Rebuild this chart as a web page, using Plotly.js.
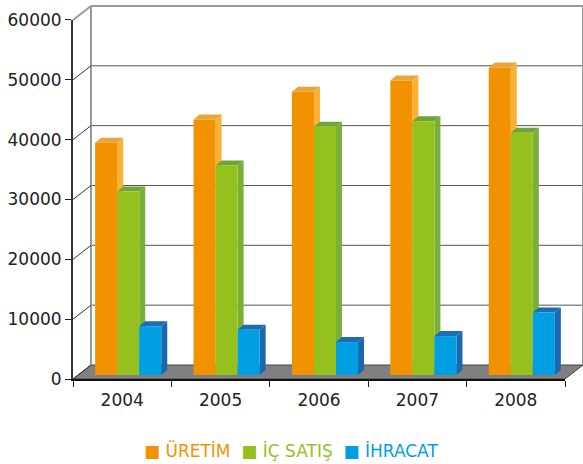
<!DOCTYPE html>
<html>
<head>
<meta charset="utf-8">
<script src="https://cdn.plot.ly/plotly-3.0.1.min.js"></script>
<style>html,body{margin:0;padding:0;background:#fff;}#chart{width:583px;height:464px;}</style>
</head>
<body>
<div id="chart"></div>
<script>
// ---- data ----
const years = ['2004', '2005', '2006', '2007', '2008'];
const uretim = [38800, 42700, 47350, 49200, 51400];
const icSatis = [30650, 35000, 41500, 42400, 40500];
const ihracat = [8150, 7550, 5500, 6500, 10450];
const seriesNames = ['ÜRETİM', 'İÇ SATIŞ', 'İHRACAT'];
const yTickValues = [0, 10000, 20000, 30000, 40000, 50000, 60000];

// ---- styles ----
const frontColors = ['#F39200', '#95C11F', '#009FE3'];
const topColors = ['#E9A53A', '#6FA535', '#1C6DB4'];
const sideColors = ['#FBB135', '#79B039', '#1A69B0'];
const FONT = 'DejaVu Sans, Verdana, sans-serif';

const W = 583, H = 464;
const M = {l: 73, r: 0, t: 5, b: 85};
const plotW = W - M.l - M.r, plotH = H - M.t - M.b;
const frontW = 492;               // front plane width in px
const frontHFrac = 0.96;          // front plane height fraction
const wallDX = 18, wallDY = 14;   // back wall offset in px
const barDX = 6, barDY = 4;       // bar front-face offset in px
const barDepthX = 6, barDepthY = 5;
const yMax = 60000;

const series = [uretim, icSatis, ihracat];
const barW = 0.224;
const idx = years.map((_, i) => i);

const pxPerCat = frontW / years.length;
const pxPerUnitY = frontHFrac * plotH / yMax;
const dX = barDepthX / pxPerCat;
const dY = barDepthY / pxPerUnitY;

const traces = series.map((vals, s) => ({
  type: 'bar',
  name: seriesNames[s],
  x: idx,
  y: vals,
  width: barW,
  offset: -1.5 * barW + s * barW,
  marker: {color: frontColors[s], line: {width: 0}},
  xaxis: 'x3', yaxis: 'y3',
  showlegend: false,
  hoverinfo: 'skip'
}));

const shapes = [];
const fx = frontW / plotW, bx = wallDX / plotW, by = wallDY / plotH;
const toPaperY = v => v / yMax * frontHFrac;
// floor
shapes.push({
  type: 'path', xref: 'paper', yref: 'paper', layer: 'below',
  path: `M0,0 L${fx},0 L${fx + bx},${by} L${bx},${by} Z`,
  fillcolor: '#808080', line: {color: '#444', width: 1}
});
// back wall grid lines and diagonal lines of the left wall
yTickValues.forEach(v => {
  const isTop = v === yMax;
  const yp = toPaperY(v);
  if (v > 0) {
    shapes.push({
      type: 'line', xref: 'paper', yref: 'paper', layer: 'below',
      x0: bx, x1: 1, y0: yp + by, y1: yp + by,
      line: {color: isTop ? '#999' : '#555', width: isTop ? 2 : 1}
    });
  }
  if (isTop) {
    shapes.push({
      type: 'line', xref: 'paper', yref: 'paper', layer: 'above',
      x0: 0, x1: bx, y0: yp, y1: yp + by,
      line: {color: '#999', width: 2}
    });
  } else {
    shapes.push({
      type: 'line', xref: 'paper', yref: 'y', layer: 'above',
      xsizemode: 'pixel', xanchor: 0, x0: 0, x1: wallDX,
      ysizemode: 'pixel', yanchor: v, y0: 0, y1: wallDY,
      line: {color: '#333', width: 1}
    });
  }
});
// back wall vertical edges
[bx, 1].forEach(xp => {
  shapes.push({
    type: 'line', xref: 'paper', yref: 'paper', layer: 'below',
    x0: xp, x1: xp, y0: by, y1: frontHFrac + by,
    line: {color: '#999', width: 2}
  });
});
// 3D faces of bars
series.forEach((vals, s) => {
  vals.forEach((v, i) => {
    const xl = i - 1.5 * barW + s * barW;
    const xr = xl + barW;
    shapes.push({
      type: 'path', xref: 'x3', yref: 'y3', layer: 'below',
      path: `M${xr},0 L${xr + dX},${dY} L${xr + dX},${v + dY} L${xr},${v} Z`,
      fillcolor: sideColors[s], line: {width: 0}
    });
    shapes.push({
      type: 'path', xref: 'x3', yref: 'y3', layer: 'below',
      path: `M${xl},${v} L${xr},${v} L${xr + dX},${v + dY} L${xl + dX},${v + dY} Z`,
      fillcolor: topColors[s], line: {width: 0}
    });
  });
});

// legend as coloured text
const legendText = seriesNames.map((n, s) =>
  `<span style="color:${frontColors[s]}">■\u00A0${n}</span>`).join('\u00A0\u00A0');

const boundaries = years.map((_, i) => i - 0.5).concat([years.length - 0.5]);

const layout = {
  width: W, height: H,
  margin: M,
  paper_bgcolor: '#ffffff',
  plot_bgcolor: 'rgba(0,0,0,0)',
  showlegend: false,
  font: {family: FONT, size: 17, color: '#222'},
  xaxis: {
    domain: [0, fx], anchor: 'y', range: [-0.5, years.length - 0.5],
    tickvals: idx, ticktext: years, ticks: '', ticklabelstandoff: 5,
    minor: {tickvals: boundaries, ticks: 'outside', ticklen: 6, tickcolor: '#222', tickwidth: 1, showgrid: false},
    showline: true, linecolor: '#111', linewidth: 2,
    showgrid: false, zeroline: false, fixedrange: true,
    tickfont: {family: FONT, size: 17, color: '#222'}
  },
  yaxis: {
    domain: [0, frontHFrac], anchor: 'x', range: [0, yMax],
    tickvals: yTickValues, tickformat: 'd', ticks: 'outside', ticklen: 6, tickcolor: '#222',
    showline: true, linecolor: '#333', linewidth: 2,
    showgrid: false, zeroline: false, fixedrange: true,
    tickfont: {family: FONT, size: 17, color: '#222'}
  },
  xaxis3: {
    domain: [barDX / plotW, (frontW + barDX) / plotW], anchor: 'y3', range: [-0.5, years.length - 0.5],
    showgrid: false, zeroline: false, showline: false, showticklabels: false, ticks: ''
  },
  yaxis3: {
    domain: [barDY / plotH, frontHFrac + barDY / plotH], anchor: 'x3', range: [0, yMax],
    showgrid: false, zeroline: false, showline: false, showticklabels: false, ticks: ''
  },
  shapes: shapes,
  annotations: [{
    xref: 'paper', yref: 'paper',
    x: (291 - M.l) / plotW, y: -(451 - (H - M.b)) / plotH,
    xanchor: 'center', yanchor: 'middle', showarrow: false,
    text: legendText, font: {family: FONT, size: 17}
  }]
};

Plotly.newPlot('chart', traces, layout, {staticPlot: true, displayModeBar: false});
</script>
</body>
</html>
